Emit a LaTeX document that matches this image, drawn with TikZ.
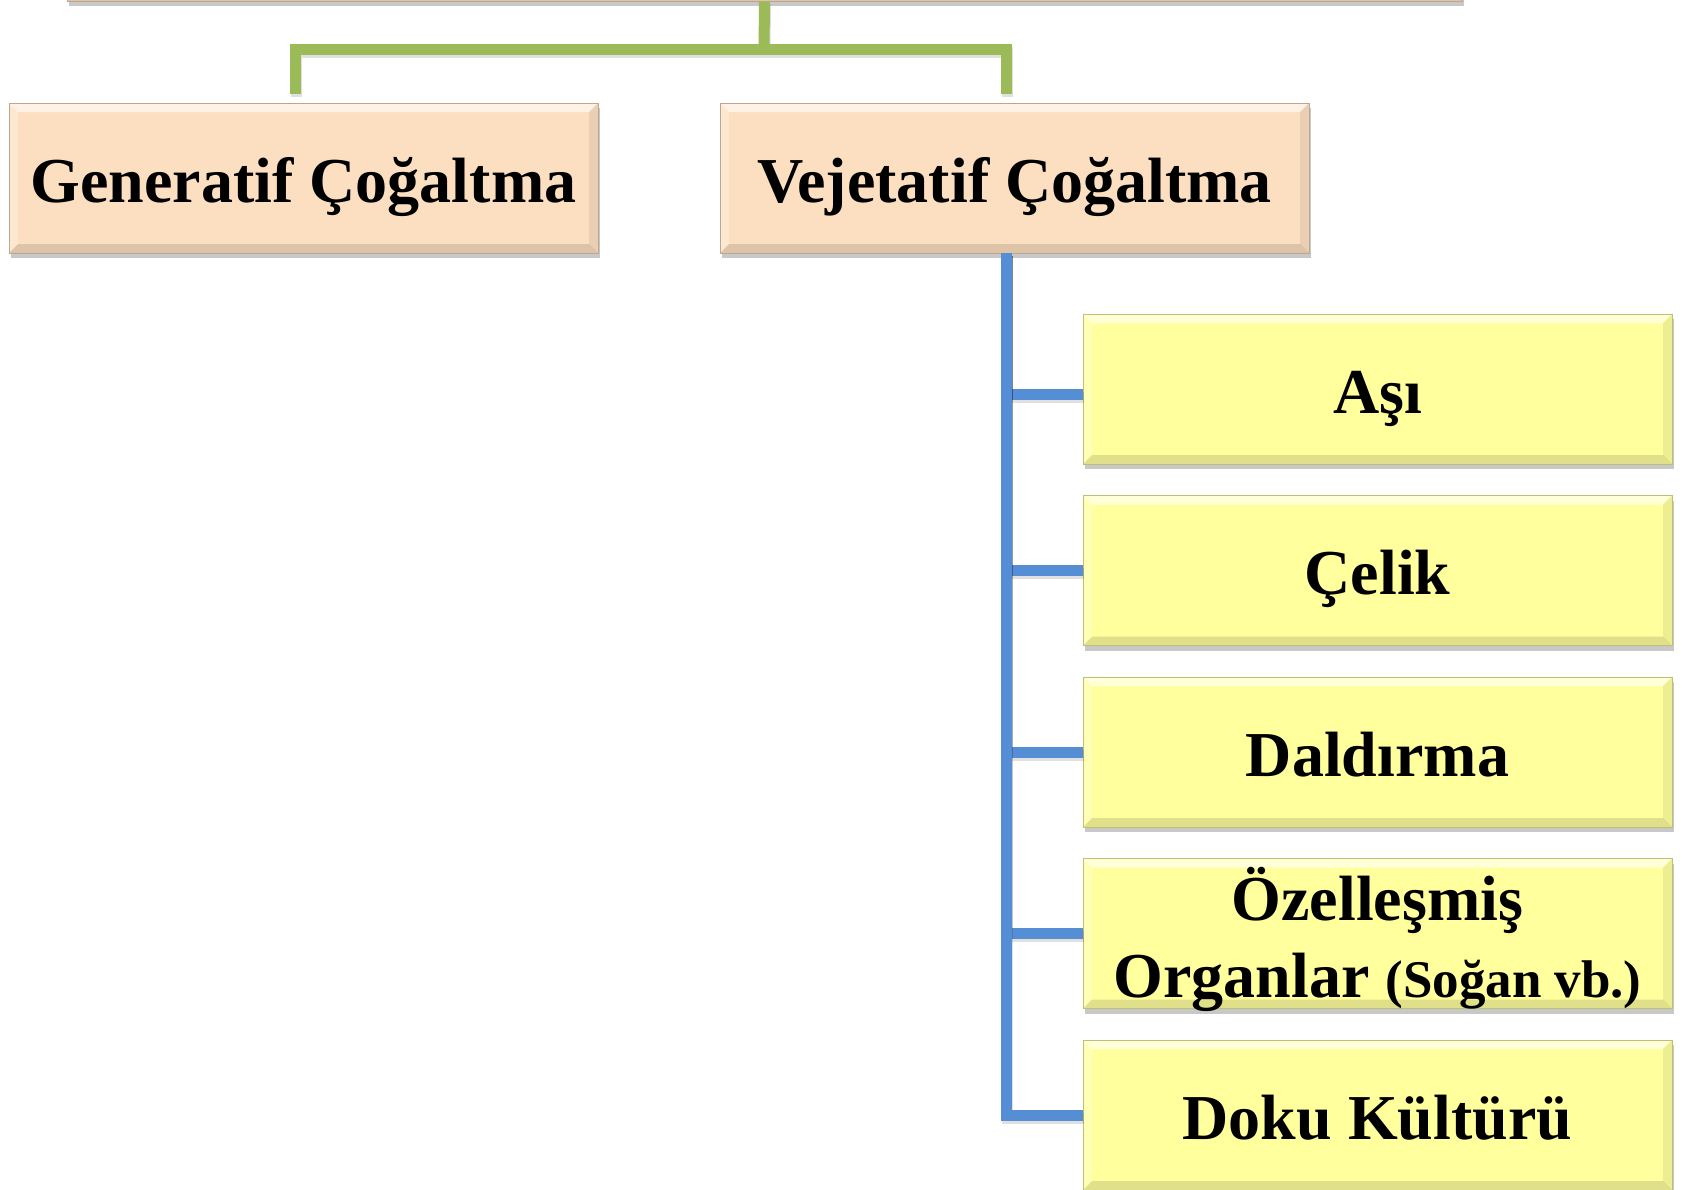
\documentclass[tikz,border=0pt]{standalone}
\usepackage{fontspec}
\setmainfont{Liberation Serif}
\usetikzlibrary{shadows}
\definecolor{peach}{HTML}{FCDFC0}
\definecolor{yel}{HTML}{FFFF9E}
\definecolor{grn}{HTML}{9BBB59}
\definecolor{blu}{HTML}{558ED5}
\tikzset{
  bevelbox/.style={draw=#1!75!black, line width=0.8pt, fill=#1,
    minimum width=589pt, minimum height=150pt, inner sep=0pt,
    text height=48pt, text depth=0pt,
    font=\fontsize{64}{77}\selectfont\bfseries,
    drop shadow={shadow xshift=2pt, shadow yshift=-5pt, opacity=0.3, fill=black!70},
    path picture={
      \fill[white, opacity=0.6] (path picture bounding box.north west) -- (path picture bounding box.north east)
        -- ([xshift=-9pt,yshift=-9pt]path picture bounding box.north east)
        -- ([xshift=9pt,yshift=-9pt]path picture bounding box.north west) -- cycle;
      \fill[black, opacity=0.12] (path picture bounding box.south west) -- (path picture bounding box.south east)
        -- ([xshift=-9pt,yshift=9pt]path picture bounding box.south east)
        -- ([xshift=9pt,yshift=9pt]path picture bounding box.south west) -- cycle;
      \fill[white, opacity=0.25] (path picture bounding box.south west) -- (path picture bounding box.north west)
        -- ([xshift=9pt,yshift=-9pt]path picture bounding box.north west)
        -- ([xshift=9pt,yshift=9pt]path picture bounding box.south west) -- cycle;
      \fill[black, opacity=0.07] (path picture bounding box.south east) -- (path picture bounding box.north east)
        -- ([xshift=-9pt,yshift=-9pt]path picture bounding box.north east)
        -- ([xshift=-9pt,yshift=9pt]path picture bounding box.south east) -- cycle;
    }},
  greenconn/.style={draw=grn, line width=11pt, line join=miter,
    preaction={draw=black, opacity=0.12, line width=11pt, transform canvas={shift={(1pt,-3pt)}}}},
  blueconn/.style={draw=blu, line width=11pt, line join=miter,
    preaction={draw=black, opacity=0.12, line width=11pt, transform canvas={shift={(1pt,-3pt)}}}},
}
\begin{document}
\begin{tikzpicture}[x=1pt,y=-1pt]
\useasboundingbox (0,0) rectangle (1683,1189);
\clip (0,0) rectangle (1683,1189);
\fill[white] (0,0) rectangle (1683,1189);

% root box (cut off at the top)
\node[bevelbox=peach, minimum width=1395pt] (root) at (764.5,-74) {};

% level 1
\node[bevelbox=peach] (gen) at (303.5,178) {Generatif Çoğaltma};
\node[bevelbox=peach] (veg) at (1014.5,178) {Vejetatif Çoğaltma};

% level 2
\node[bevelbox=yel] (asi) at (1377.5,389) {Aşı};
\node[bevelbox=yel] (celik) at (1377.5,570.5) {Çelik};
\node[bevelbox=yel] (dal) at (1377.5,752) {Daldırma};
\node[bevelbox=yel, text height=0pt, text depth=27pt] (ozel) at (1377.5,933.5)
  {\begin{tabular}[t]{@{}c@{}}Özelleşmiş\\Organlar {\fontsize{53}{77}\selectfont(Soğan vb.)}\end{tabular}};
\node[bevelbox=yel] (doku) at (1377.5,1115) {Doku Kültürü};

% green connectors
\coordinate (gbar) at (764,49);
\draw[greenconn] (root.south) -- (gbar);
\draw[greenconn, shorten <=9pt] ([xshift=-8pt]gen.north) |- (gbar);
\draw[greenconn, shorten <=9pt] ([xshift=-8pt]veg.north) |- (gbar);

% blue connectors
\draw[blueconn] ([xshift=-8pt]veg.south) |- ([yshift=-5pt]asi.west);
\draw[blueconn] ([xshift=-8pt]veg.south) |- (celik.west);
\draw[blueconn] ([xshift=-8pt]veg.south) |- (dal.west);
\draw[blueconn] ([xshift=-8pt]veg.south) |- (ozel.west);
\draw[blueconn] ([xshift=-8pt]veg.south) |- (doku.west);
\end{tikzpicture}
\end{document}
